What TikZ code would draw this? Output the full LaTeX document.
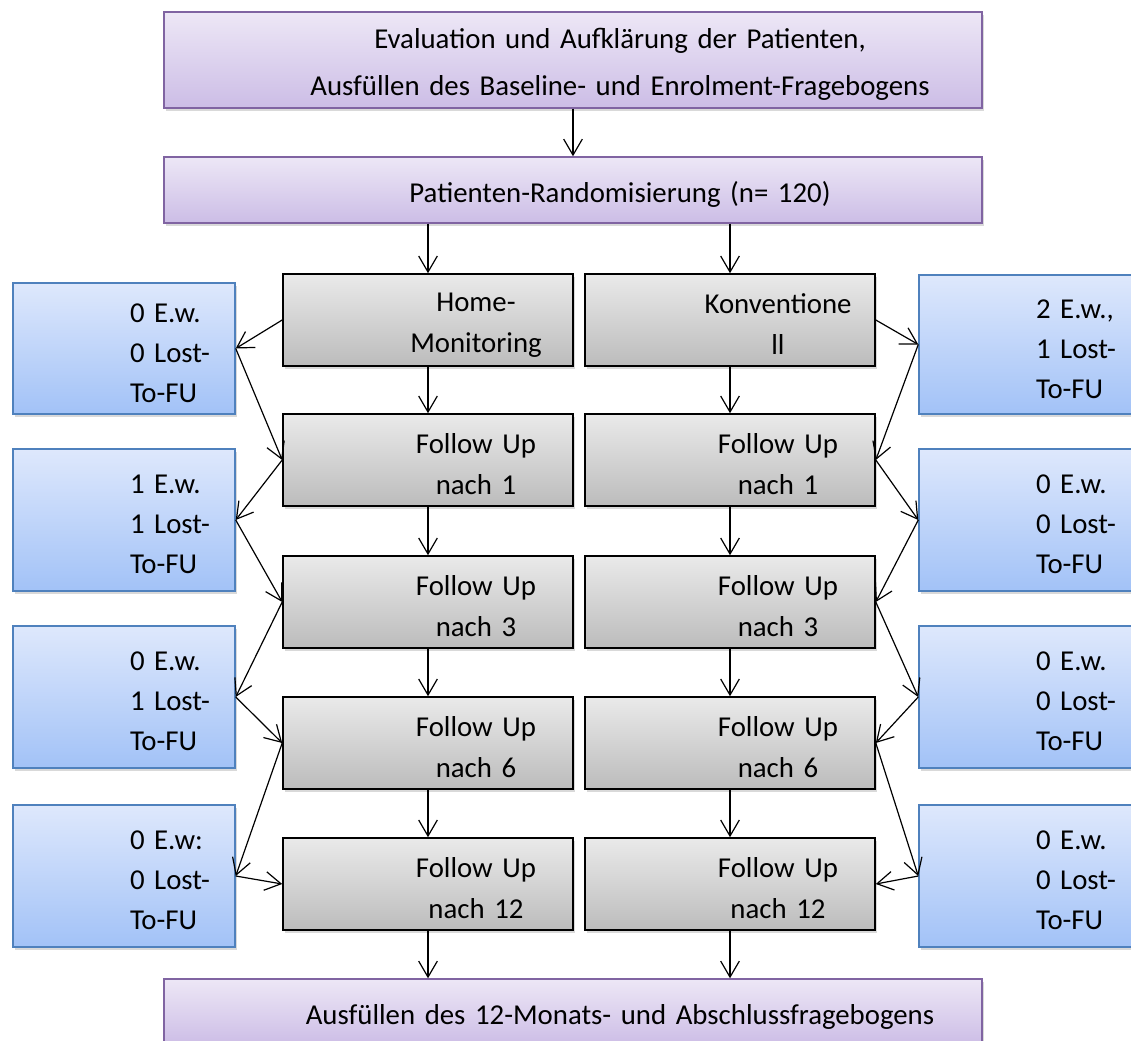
\documentclass[tikz,border=0pt]{standalone}
\usepackage{fontspec}
\setmainfont{Carlito}
\usetikzlibrary{arrows.meta,shadows}

\definecolor{lilarand}{RGB}{128,100,162}
\definecolor{lilaoben}{RGB}{237,231,246}
\definecolor{lilaunten}{RGB}{204,189,230}
\definecolor{grauoben}{RGB}{234,234,234}
\definecolor{grauunten}{RGB}{188,188,188}
\definecolor{blaurand}{RGB}{79,129,189}
\definecolor{blauoben}{RGB}{222,232,252}
\definecolor{blauunten}{RGB}{162,194,247}

\begin{document}
\begin{tikzpicture}[x=0.75pt,y=0.75pt,yscale=-1,xscale=1,
  every node/.style={inner sep=0pt, font=\fontsize{21.6pt}{30pt}\selectfont},
  schatten/.style={drop shadow={shadow xshift=1.5pt, shadow yshift=-2pt, opacity=0.3}},
  mitte/.style={execute at begin node={\leftskip=#1 plus 1fil\rightskip=0pt plus 1fil\parfillskip=0pt\relax}},
  lilabox/.style={draw=lilarand, line width=1.1pt, top color=lilaoben, bottom color=lilaunten,
    text width=613.5pt, text height=22pt, align=center, mitte=70.5pt, schatten},
  graubox/.style={draw=black, line width=1.2pt, top color=grauoben, bottom color=grauunten,
    text width=217.5pt, text height=21pt, minimum height=69pt, align=center,
    font=\fontsize{21.6pt}{30.75pt}\selectfont, mitte=72pt, schatten},
  blaubox/.style={draw=blaurand, line width=1.1pt, top color=blauoben, bottom color=blauunten,
    text width=166.5pt, text height=21pt, minimum height=106.5pt, align=left,
    execute at begin node={\leftskip=87.75pt}, schatten},
  pfeil/.style={-{Straight Barb[length=12pt,width=14pt]}, line width=0.9pt}
]
\useasboundingbox (0,0) rectangle (1131,1041);

%Shape: Rectangle [top]
\node[lilabox, minimum height=72pt] (eval) at (573,60) {Evaluation und Aufklärung der Patienten,\\[5.25pt]Ausfüllen des Baseline- und Enrolment-Fragebogens};
%Shape: Rectangle [randomisation]
\node[lilabox, minimum height=49.5pt] (rand) at (573,190) {Patienten-Randomisierung (n= 120)};
%Shape: Rectangle [bottom]
\node[lilabox, minimum height=49.5pt] (ende) at (573,1012) {Ausfüllen des 12-Monats- und Abschlussfragebogens};

%Shape: Rectangle [left column]
\node[graubox] (hm) at (428,320) {Home-\\Monitoring};
\node[graubox] (fuli1) at (428,460) {Follow Up\\nach 1};
\node[graubox] (fuli3) at (428,602) {Follow Up\\nach 3};
\node[graubox] (fuli6) at (428,743) {Follow Up\\nach 6};
\node[graubox] (fuli12) at (428,884) {Follow Up\\nach 12};

%Shape: Rectangle [right column]
\node[graubox] (kv) at (730,320) {Konventione\\ll};
\node[graubox] (fure1) at (730,460) {Follow Up\\nach 1};
\node[graubox] (fure3) at (730,602) {Follow Up\\nach 3};
\node[graubox] (fure6) at (730,743) {Follow Up\\nach 6};
\node[graubox] (fure12) at (730,884) {Follow Up\\nach 12};

%Shape: Rectangle [left drop-outs]
\node[blaubox, minimum height=98.25pt] (ewli0) at (124,348.5) {0 E.w.\\0 Lost-\\To-FU};
\node[blaubox] (ewli1) at (124,520) {1 E.w.\\1 Lost-\\To-FU};
\node[blaubox] (ewli3) at (124,697) {0 E.w.\\1 Lost-\\To-FU};
\node[blaubox] (ewli6) at (124,876) {0 E.w:\\0 Lost-\\To-FU};

%Shape: Rectangle [right drop-outs]
\node[blaubox, minimum height=104.25pt] (ewre0) at (1030,344.5) {2 E.w.,\\1 Lost-\\To-FU};
\node[blaubox] (ewre1) at (1030,520) {0 E.w.\\0 Lost-\\To-FU};
\node[blaubox] (ewre3) at (1030,697) {0 E.w.\\0 Lost-\\To-FU};
\node[blaubox] (ewre6) at (1030,876) {0 E.w.\\0 Lost-\\To-FU};

%Straight Lines [main flow]
\draw[pfeil] (eval) -- (rand);
\draw[pfeil] (rand.south -| hm.north) -- (hm.north);
\draw[pfeil] (rand.south -| kv.north) -- (kv.north);
\draw[pfeil] (hm) -- (fuli1);
\draw[pfeil] (fuli1) -- (fuli3);
\draw[pfeil] (fuli3) -- (fuli6);
\draw[pfeil] (fuli6) -- (fuli12);
\draw[pfeil] (fuli12.south) -- (fuli12.south |- ende.north);
\draw[pfeil] (kv) -- (fure1);
\draw[pfeil] (fure1) -- (fure3);
\draw[pfeil] (fure3) -- (fure6);
\draw[pfeil] (fure6) -- (fure12);
\draw[pfeil] (fure12.south) -- (fure12.south |- ende.north);

%Straight Lines [left zigzag]
\draw[pfeil] (hm.west) -- (ewli0.east);
\draw[pfeil] (ewli0.east) -- (fuli1.west);
\draw[pfeil] (fuli1.west) -- (ewli1.east);
\draw[pfeil] (ewli1.east) -- (fuli3.west);
\draw[pfeil] (fuli3.west) -- (ewli3.east);
\draw[pfeil] (ewli3.east) -- (fuli6.west);
\draw[pfeil] (fuli6.west) -- (ewli6.east);
\draw[pfeil] (ewli6.east) -- (fuli12.west);

%Straight Lines [right zigzag]
\draw[pfeil] (kv.east) -- (ewre0.west);
\draw[pfeil] (ewre0.west) -- (fure1.east);
\draw[pfeil] (fure1.east) -- (ewre1.west);
\draw[pfeil] (ewre1.west) -- (fure3.east);
\draw[pfeil] (fure3.east) -- (ewre3.west);
\draw[pfeil] (ewre3.west) -- (fure6.east);
\draw[pfeil] (fure6.east) -- (ewre6.west);
\draw[pfeil] (ewre6.west) -- (fure12.east);

\end{tikzpicture}
\end{document}
